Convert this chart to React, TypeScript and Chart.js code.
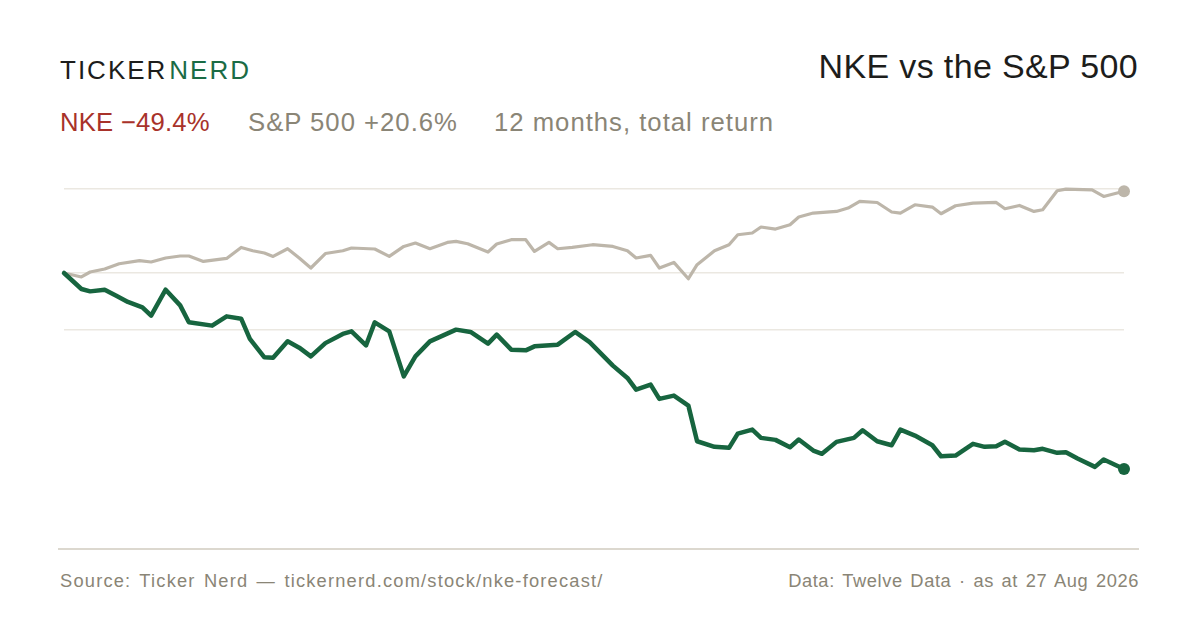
import React, { useEffect, useRef } from "react";
import { Chart, registerables } from "chart.js";

Chart.register(...registerables);

// Day offsets from 27 Aug 2025 (0) to 27 Aug 2026 (365), total return in %
const nkeDays = [0, 6, 9, 14, 18, 22, 27, 30, 35, 40, 43, 51, 56, 61, 64, 69, 72, 77, 81, 85, 90, 96, 99, 104, 107, 112, 117, 121, 126, 135, 140, 146, 149, 154, 159, 162, 170, 176, 181, 189, 194, 197, 202, 205, 210, 215, 218, 224, 229, 232, 237, 240, 245, 250, 253, 258, 261, 266, 272, 275, 280, 285, 288, 293, 299, 302, 307, 313, 317, 321, 324, 329, 334, 337, 342, 345, 349, 355, 358, 365];
const nkeReturn = [0, -4.03, -4.63, -4.21, -5.72, -7.3, -8.66, -10.76, -4.21, -8.16, -12.44, -13.27, -10.93, -11.51, -16.62, -21.26, -21.34, -17.23, -18.82, -21.01, -17.68, -15.37, -14.71, -18.24, -12.44, -14.71, -26.05, -21.01, -17.23, -14.28, -14.86, -17.81, -15.54, -19.32, -19.5, -18.49, -18.06, -14.86, -17.43, -23.35, -26.45, -29.4, -28.14, -31.74, -30.91, -33.43, -42.42, -43.83, -44.08, -40.48, -39.47, -41.56, -42.07, -43.93, -41.99, -44.76, -45.59, -42.57, -41.56, -39.65, -42.42, -43.43, -39.47, -40.98, -43.43, -46.2, -46.02, -43.07, -43.83, -43.68, -42.57, -44.51, -44.69, -44.33, -45.34, -45.19, -46.78, -48.87, -47.03, -49.4];

const spxDays = [0, 6, 9, 14, 19, 26, 30, 35, 40, 43, 48, 56, 61, 65, 69, 72, 77, 81, 85, 90, 96, 99, 107, 112, 117, 121, 126, 132, 135, 139, 146, 149, 154, 159, 162, 167, 170, 175, 182, 189, 194, 197, 202, 205, 210, 215, 218, 224, 229, 232, 237, 240, 245, 250, 253, 258, 266, 270, 274, 280, 285, 288, 293, 299, 302, 307, 313, 321, 324, 329, 334, 337, 342, 345, 354, 358, 365];
const spxReturn = [0, -1.0, 0.25, 1.01, 2.34, 3.1, 2.77, 3.78, 4.28, 4.28, 2.92, 3.68, 6.45, 5.62, 5.04, 4.18, 6.12, 3.78, 1.26, 4.91, 5.62, 6.3, 6.05, 4.18, 6.7, 7.56, 6.12, 7.71, 7.96, 7.38, 5.29, 7.3, 8.39, 8.39, 5.44, 7.71, 6.12, 6.45, 7.13, 6.7, 5.62, 3.78, 4.43, 1.26, 2.67, -1.44, 2.09, 5.62, 7.13, 9.65, 10.08, 11.59, 11.08, 12.17, 14.11, 15.11, 15.52, 16.37, 18.04, 17.78, 15.37, 15.11, 17.2, 16.62, 14.94, 16.95, 17.63, 17.78, 16.2, 17.03, 15.52, 15.94, 20.73, 21.16, 20.98, 19.29, 20.6];

const gridValues = [21.2, 0, -14.3];

const GREEN = "#17653f";
const GREY_LINE = "#bdb6aa";
const RED = "#a8322a";
const GREY_TEXT = "#8a8576";
const DARK = "#1d1d1b";
const FONT = "'Liberation Sans', Arial, Helvetica, sans-serif";

export default function App() {
  const canvasRef = useRef<HTMLCanvasElement | null>(null);

  useEffect(() => {
    document.body.style.margin = "0";
    const canvas = canvasRef.current;
    if (!canvas) return;
    const nkeData = nkeDays.map((d, i) => ({ x: d, y: nkeReturn[i] }));
    const spxData = spxDays.map((d, i) => ({ x: d, y: spxReturn[i] }));
    const chart = new Chart(canvas, {
      type: "line",
      data: {
        datasets: [
          {
            label: "NKE",
            data: nkeData,
            borderColor: GREEN,
            backgroundColor: GREEN,
            borderWidth: 4.5,
            tension: 0,
            borderJoinStyle: "round",
            borderCapStyle: "round",
            pointRadius: (ctx: any) => (ctx.dataIndex === nkeData.length - 1 ? 6 : 0),
            pointBackgroundColor: GREEN,
            pointBorderWidth: 0,
            clip: false as any,
          },
          {
            label: "S&P 500",
            data: spxData,
            borderColor: GREY_LINE,
            backgroundColor: GREY_LINE,
            borderWidth: 3.2,
            tension: 0,
            borderJoinStyle: "round",
            borderCapStyle: "round",
            pointRadius: (ctx: any) => (ctx.dataIndex === spxData.length - 1 ? 6 : 0),
            pointBackgroundColor: GREY_LINE,
            pointBorderWidth: 0,
            clip: false as any,
          },
        ],
      },
      options: {
        animation: false,
        responsive: false,
        devicePixelRatio: window.devicePixelRatio || 1,
        layout: { padding: 12 },
        plugins: { legend: { display: false }, tooltip: { enabled: false } },
        scales: {
          x: { type: "linear", min: 0, max: 365, display: false },
          y: {
            min: -60,
            max: 30,
            display: true,
            border: { display: false },
            ticks: { display: false },
            grid: { color: "#ebe8e1", lineWidth: 1.5, drawTicks: false },
            afterBuildTicks: (scale: any) => {
              scale.ticks = gridValues.map((v) => ({ value: v }));
            },
          },
        },
      },
    });
    return () => chart.destroy();
  }, []);

  const abs = (s: React.CSSProperties): React.CSSProperties => ({
    position: "absolute",
    whiteSpace: "nowrap",
    fontFamily: FONT,
    ...s,
  });

  return (
    <div style={{ position: "fixed", left: 0, top: 0, width: 1200, height: 630, background: "#ffffff", overflow: "hidden" }}>
      <div style={abs({ left: 60, top: 57.3, fontSize: 26, lineHeight: "26px", letterSpacing: 2 })}>
        <span style={{ color: DARK }}>TICKER</span>
        <span style={{ color: "#1a6b45", marginLeft: 2 }}>NERD</span>
      </div>
      <div style={abs({ right: 62, top: 49, fontSize: 34, lineHeight: "34px", color: DARK, letterSpacing: 0.35 })}>NKE vs the S&amp;P 500</div>
      <div style={abs({ left: 60, top: 110, fontSize: 25.7, lineHeight: "25.7px", color: RED, letterSpacing: 0.2 })}>NKE −49.4%</div>
      <div style={abs({ left: 248, top: 110, fontSize: 25.7, lineHeight: "25.7px", color: GREY_TEXT, letterSpacing: 1 })}>S&amp;P 500 +20.6%</div>
      <div style={abs({ left: 494, top: 110, fontSize: 25.7, lineHeight: "25.7px", color: GREY_TEXT, letterSpacing: 1 })}>12 months, total return</div>
      <canvas
        ref={canvasRef}
        width={1084}
        height={381}
        style={{ position: "absolute", left: 52, top: 142, width: 1084, height: 381 }}
      />
      <div style={{ position: "absolute", left: 58, top: 548, width: 1081, height: 1.5, background: "#dcd8cf" }} />
      <div style={abs({ left: 60, top: 572, fontSize: 18.3, lineHeight: "18.3px", color: GREY_TEXT, letterSpacing: 1.2, wordSpacing: 2 })}>
        Source: Ticker Nerd — tickernerd.com/stock/nke-forecast/
      </div>
      <div style={abs({ right: 61, top: 572, fontSize: 18.3, lineHeight: "18.3px", color: GREY_TEXT, letterSpacing: 0.6, wordSpacing: 2 })}>
        Data: Twelve Data · as at 27 Aug 2026
      </div>
    </div>
  );
}
